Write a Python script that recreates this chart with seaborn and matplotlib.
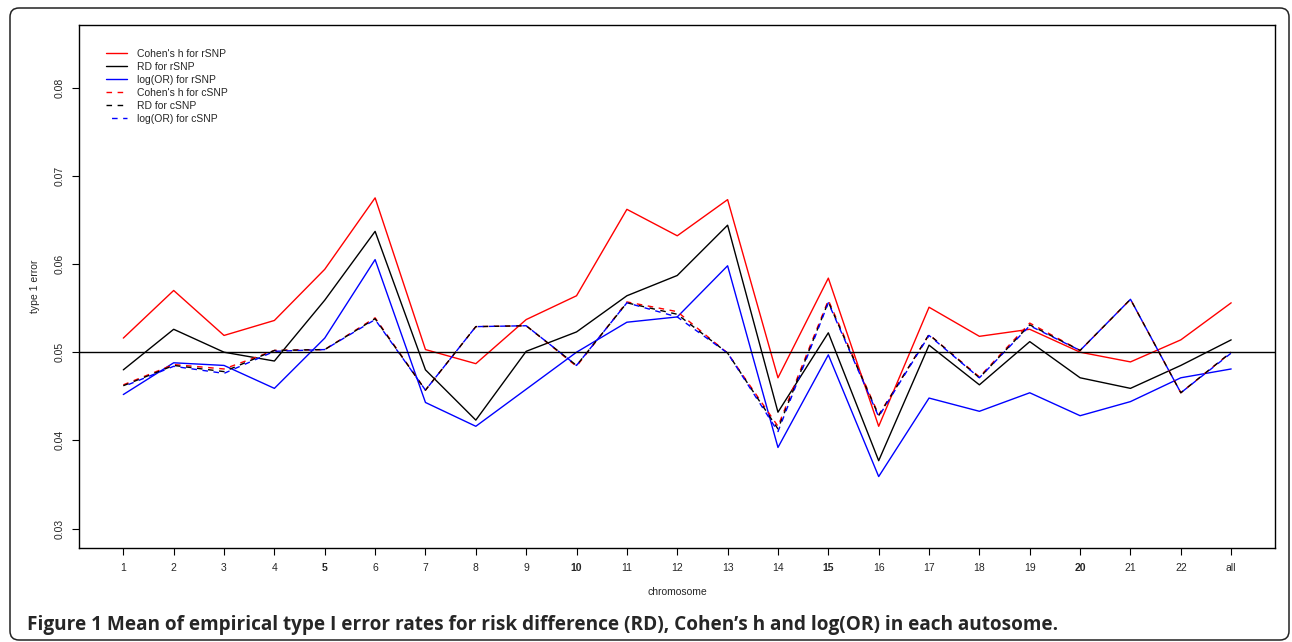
import pandas as pd
import matplotlib.pyplot as plt
from matplotlib.patches import FancyBboxPatch
import seaborn as sns

# mean empirical type I error per autosome
chromosomes = [str(i) for i in range(1, 23)] + ['all']
cohen_r = [0.0516, 0.0570, 0.0519, 0.0536, 0.0594, 0.0675, 0.0503, 0.0487, 0.0537, 0.0564, 0.0662, 0.0632,
           0.0673, 0.0471, 0.0584, 0.0416, 0.0551, 0.0518, 0.0526, 0.0500, 0.0489, 0.0514, 0.0556]
rd_r = [0.0480, 0.0526, 0.0500, 0.0490, 0.0559, 0.0637, 0.0480, 0.0423, 0.0501, 0.0523, 0.0564, 0.0587,
        0.0644, 0.0432, 0.0522, 0.0377, 0.0508, 0.0463, 0.0512, 0.0471, 0.0459, 0.0485, 0.0514]
logor_r = [0.0452, 0.0488, 0.0485, 0.0459, 0.0516, 0.0605, 0.0443, 0.0416, 0.0458, 0.0500, 0.0534, 0.0540,
           0.0598, 0.0392, 0.0497, 0.0359, 0.0448, 0.0433, 0.0454, 0.0428, 0.0444, 0.0471, 0.0481]
cohen_c = [0.0463, 0.0486, 0.0481, 0.0502, 0.0503, 0.0539, 0.0457, 0.0529, 0.0530, 0.0484, 0.0557, 0.0546,
           0.0499, 0.0416, 0.0559, 0.0429, 0.0520, 0.0472, 0.0533, 0.0502, 0.0560, 0.0454, 0.0500]
rd_c = [0.0462, 0.0485, 0.0478, 0.0502, 0.0503, 0.0538, 0.0457, 0.0529, 0.0530, 0.0485, 0.0556, 0.0543,
        0.0499, 0.0413, 0.0557, 0.0428, 0.0520, 0.0471, 0.0531, 0.0502, 0.0560, 0.0454, 0.0500]
logor_c = [0.0461, 0.0484, 0.0476, 0.0501, 0.0503, 0.0537, 0.0457, 0.0529, 0.0530, 0.0485, 0.0556, 0.0540,
           0.0499, 0.0410, 0.0556, 0.0427, 0.0519, 0.0471, 0.0530, 0.0502, 0.0560, 0.0454, 0.0499]

series = [
    ("Cohen's h for rSNP", cohen_r, 'red', '-'),
    ('RD for rSNP', rd_r, 'black', '-'),
    ('log(OR) for rSNP', logor_r, 'blue', '-'),
    ("Cohen's h for cSNP", cohen_c, 'red', (0, (4, 4))),
    ('RD for cSNP', rd_c, 'black', (0, (4, 4))),
    ('log(OR) for cSNP', logor_c, 'blue', (4, (4, 4))),
]

sns.set_style('ticks')
plt.rcParams['font.family'] = ['Liberation Sans', 'DejaVu Sans']

fig = plt.figure(figsize=(12.92, 6.42), dpi=100)
ax = fig.add_axes([79 / 1292, 1 - 548 / 642, 1196 / 1292, 523 / 642])

pos = list(range(len(chromosomes)))
for label, vals, color, ls in series:
    df = pd.DataFrame({'pos': pos, 'err': vals})
    sns.lineplot(data=df, x='pos', y='err', color=color, linestyle=ls, linewidth=1.0,
                 label=label, sort=False, estimator=None, ax=ax)

ax.axhline(0.05, color='black', linewidth=1.0)

ax.set_xlim(-0.88, 22.87)
ax.set_ylim(0.0278, 0.0871)
ax.set_xticks(pos)
ax.set_xticklabels(chromosomes)
for t in ax.get_xticklabels():
    if t.get_text() in ('5', '10', '15', '20'):
        t.set_fontweight('bold')
ax.set_yticks([0.03, 0.04, 0.05, 0.06, 0.07, 0.08])
ax.set_yticklabels(['0.03', '0.04', '0.05', '0.06', '0.07', '0.08'], rotation=90, va='center')
ax.tick_params(axis='both', labelsize=7.5, length=5, width=0.8, color='black', pad=6)
ax.tick_params(axis='y', pad=5)
for s in ax.spines.values():
    s.set_color('black')
    s.set_linewidth(1.0)

ax.set_xlabel('chromosome', fontsize=7.5)
ax.set_ylabel('type 1 error', fontsize=7.5)
ax.xaxis.set_label_coords(0.5, -0.075)
ax.yaxis.set_label_coords(-0.033, 0.5)

ax.legend(loc='upper left', bbox_to_anchor=(106 / 1292, 1 - 49 / 642), bbox_transform=fig.transFigure,
          frameon=False, fontsize=7.5, borderpad=0, borderaxespad=0, handlelength=2.0,
          handletextpad=1.0, labelspacing=0.28)

# rounded outer frame
frame = FancyBboxPatch((0.10, 0.02), 12.79, 6.32, boxstyle='round,pad=0,rounding_size=0.09',
                       transform=fig.dpi_scale_trans, fill=False, edgecolor='#222222', linewidth=1.1)
fig.add_artist(frame)

fig.text(27 / 1292, 12 / 642,
         "Figure 1 Mean of empirical type I error rates for risk difference (RD), Cohen\u2019s h and log(OR) in each autosome.",
         fontsize=13.7, fontweight='bold', family=['Open Sans', 'DejaVu Sans'], va='baseline', ha='left')

plt.savefig('out.png', dpi=100)
